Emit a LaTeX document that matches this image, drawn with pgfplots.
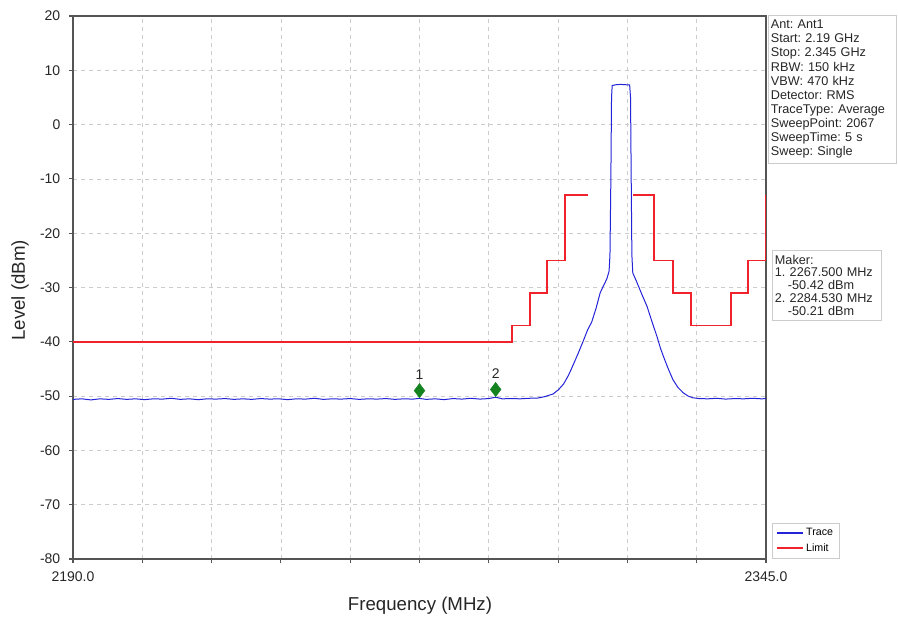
\documentclass[border=0pt]{standalone}
\usepackage{fontspec}
\setmainfont{Liberation Sans}
\frenchspacing
\usepackage{pgfplots}
\pgfplotsset{compat=1.18}
\definecolor{tracec}{RGB}{35,35,215}
\definecolor{limitc}{RGB}{240,35,45}
\definecolor{markc}{RGB}{20,130,30}
\definecolor{axc}{RGB}{85,85,85}
\begin{document}
\begin{tikzpicture}
\begin{axis}[name=ax, scale only axis, width=519.75pt, height=407.25pt,
  xmin=2190, xmax=2345, ymin=-80, ymax=20, clip=false,
  xtick={2190,2205.5,2221,2236.5,2252,2267.5,2283,2298.5,2314,2329.5,2345},
  xticklabels={2190.0,,,,,,,,,,2345.0},
  ytick={-80,-70,...,20},
  grid=major, grid style={dashed, color=gray!40, line width=0.5pt},
  axis line style={draw=axc, line width=1.1pt},
  tick style={draw=axc, line width=0.8pt}, tick align=outside, major tick length=3pt,
  tick pos=left,
  ticklabel style={font=\fontsize{10.5}{12}\selectfont, text=black!85},
  xticklabel style={yshift=-3pt},
  yticklabel style={xshift=-3pt},
  /pgf/number format/assume math mode=true,
  xlabel={Frequency (MHz)}, ylabel={Level (dBm)},
  label style={font=\fontsize{14}{16}\selectfont, text=black!85},
  xlabel style={at={(axis description cs:0.5007,-0.0866)}, anchor=center},
  ylabel style={at={(axis description cs:-0.0765,0.495)}, anchor=center},
  legend style={at={(axis description cs:1.0087,0.0663)}, anchor=north west, draw=gray!40,
    font=\fontsize{8}{9.5}\selectfont, inner xsep=3pt, inner ysep=2pt, row sep=0pt},
  legend image code/.code={\draw[#1, line width=1.4pt] (0pt,0pt) -- (19pt,0pt);},
  legend cell align=left,
  unbounded coords=jump,
]
\addplot[tracec, line width=0.75pt] coordinates {
(2190,-50.6) (2192,-50.5) (2194,-50.7) (2196,-50.5) (2198,-50.6) (2200,-50.45) (2202,-50.6)
(2204,-50.5) (2206,-50.65) (2208,-50.5) (2210,-50.55) (2212,-50.4) (2214,-50.6) (2216,-50.5)
(2218,-50.65) (2220,-50.5) (2222,-50.55) (2224,-50.45) (2226,-50.6) (2228,-50.5) (2230,-50.6)
(2232,-50.45) (2234,-50.55) (2236,-50.5) (2238,-50.65) (2240,-50.5) (2242,-50.55) (2244,-50.4)
(2246,-50.6) (2248,-50.5) (2250,-50.55) (2252,-50.45) (2254,-50.6) (2256,-50.5) (2258,-50.55)
(2260,-50.45) (2262,-50.6) (2264,-50.5) (2266,-50.55) (2267.5,-50.42) (2269,-50.6) (2271,-50.5)
(2273,-50.65) (2275,-50.45) (2277,-50.55) (2279,-50.4) (2281,-50.55) (2283,-50.45) (2284.53,-50.21)
(2286,-50.5) (2288,-50.45) (2290,-50.5) (2292,-50.4) (2294,-50.35) (2295.5,-50.1) (2297.4,-49.6)
(2298.6,-48.8) (2299.7,-47.8) (2300.8,-46.2) (2301.9,-44.2) (2303,-42.1) (2304.1,-39.9)
(2305.1,-37.8) (2306,-36.4) (2307,-33.8) (2307.9,-31.0) (2308.7,-29.6) (2309.4,-28.4)
(2309.9,-27.0) (2310.1,-24) (2310.3,-10) (2310.45,5) (2310.6,7.2) (2311.5,7.35) (2312.5,7.4)
(2313.5,7.35) (2314.5,7.3) (2314.7,5) (2314.85,-10) (2315.0,-24) (2315.2,-27.3) (2316.1,-29.0)
(2317.2,-31.2) (2318.4,-33.5) (2319.5,-36.3) (2320.6,-39.0) (2321.4,-41.2) (2322.2,-43.0)
(2323.2,-45.1) (2324.2,-47.0) (2325.3,-48.4) (2326.5,-49.4) (2327.6,-50.0) (2328.6,-50.3)
(2330,-50.45) (2332,-50.5) (2334,-50.4) (2336,-50.55) (2338,-50.45) (2340,-50.5) (2342,-50.4)
(2344,-50.5) (2345,-50.45)};
\addlegendentry{Trace}
\addplot[limitc, line width=1.1pt] coordinates {
(2190,-40) (2288.2,-40) (2288.2,-37) (2292.2,-37) (2292.2,-31) (2296.0,-31) (2296.0,-25)
(2300.0,-25) (2300.0,-13) (2305.2,-13) (2310,nan)
(2315.2,-13) (2319.9,-13) (2319.9,-25) (2324.2,-25) (2324.2,-31) (2328.2,-31) (2328.2,-37)
(2337.2,-37) (2337.2,-31) (2341.0,-31) (2341.0,-25) (2344.9,-25) (2344.9,-13)};
\addlegendentry{Limit}
\addplot[forget plot, only marks, mark=diamond*, mark size=5.3pt, color=markc,
  mark options={yshift=5.8pt},
  point meta=explicit symbolic, nodes near coords={\pgfplotspointmeta},
  every node near coord/.style={anchor=center, yshift=12pt, text=black!85,
    font=\fontsize{10.5}{12}\selectfont}]
  coordinates {(2267.5,-50.42)[1] (2284.53,-50.21)[2]};
\end{axis}
\node[draw=gray!40, anchor=north west, align=left, text width=92pt, inner xsep=2pt, inner ysep=3.5pt,
  font=\fontsize{9.5}{10.6}\selectfont, text=black!85] at ([shift={(1.5pt,0.75pt)}]ax.north east)
  {Ant: Ant1\\Start: 2.19 GHz\\Stop: 2.345 GHz\\RBW: 150 kHz\\VBW: 470 kHz\\Detector: RMS\\TraceType: Average\\SweepPoint: 2067\\SweepTime: 5 s\\Sweep: Single};
\node[draw=gray!40, anchor=north west, align=left, text width=78pt, inner xsep=2pt, inner ysep=3.5pt,
  font=\fontsize{9.5}{9.6}\selectfont, text=black!85] at ([shift={(4.5pt,-175.5pt)}]ax.north east)
  {Maker:\\1. 2267.500 MHz\\\hspace*{9.75pt}-50.42 dBm\\2. 2284.530 MHz\\\hspace*{9.75pt}-50.21 dBm};
\path[use as bounding box] ([shift={(-54.75pt,-46.5pt)}]ax.south west) rectangle ([shift={(99pt,12pt)}]ax.north east);
\end{tikzpicture}
\end{document}
